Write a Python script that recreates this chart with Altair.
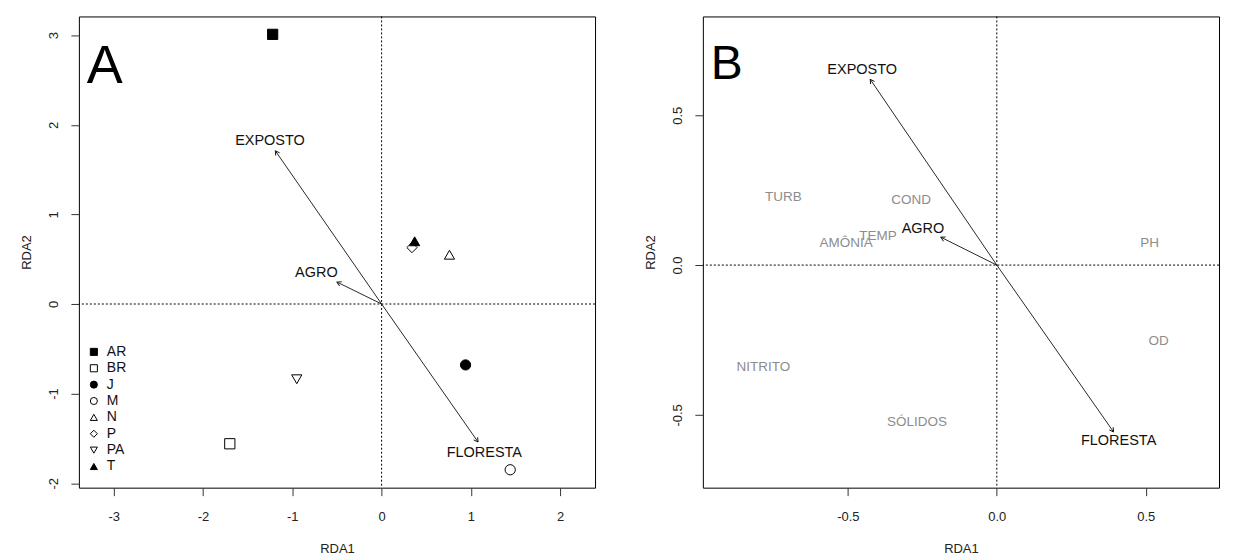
import math
import altair as alt
import pandas as pd

# ---------------- Panel A: site scores ----------------
sites = ["AR", "BR", "J", "M", "N", "P", "PA", "T"]
site_x = [-1.22, -1.70, 0.94, 1.44, 0.76, 0.34, -0.95, 0.37]
site_y = [3.01, -1.56, -0.68, -1.85, 0.55, 0.63, -0.84, 0.70]
site_shapes = ["square", "square", "circle", "circle", "triangle-up", "diamond", "triangle-down", "triangle-up"]
site_fills = ["black", "white", "black", "white", "white", "white", "white", "black"]

# land-use arrows (panel A)
landuse = ["EXPOSTO", "AGRO", "FLORESTA"]
a_tip_x = [-1.19, -0.50, 1.08]
a_tip_y = [1.71, 0.245, -1.54]
a_lab_x = [-1.25, -0.73, 1.15]
a_lab_y = [1.82, 0.35, -1.66]

# ---------------- Panel B ----------------
b_tip_x = [-0.425, -0.188, 0.392]
b_tip_y = [0.62, 0.093, -0.557]
b_lab_x = [-0.452, -0.248, 0.409]
b_lab_y = [0.65, 0.12, -0.587]

water = ["TURB", "COND", "TEMP", "AMÔNIA", "PH", "OD", "NITRITO", "SÓLIDOS"]
water_x = [-0.717, -0.288, -0.399, -0.506, 0.513, 0.543, -0.784, -0.268]
water_y = [0.227, 0.217, 0.097, 0.073, 0.073, -0.253, -0.34, -0.523]

# axis settings
A_xdom = [-3.39, 2.39]
A_ydom = [-2.05, 3.21]
A_xticks = [-3, -2, -1, 0, 1, 2]
A_yticks = [-2, -1, 0, 1, 2, 3]
B_xdom = [-0.987, 0.746]
B_ydom = [-0.743, 0.83]
B_xticks = [-0.5, 0.0, 0.5]
B_yticks = [-0.5, 0.0, 0.5]

W, H = 517, 472
FONT = "Liberation Sans"
GRAY = "#8c8c8c"
VPATH = "M-0.5,0.87 L0,0 L0.5,0.87"


def angles(xs, ys, xdom, ydom):
    sx = W / (xdom[1] - xdom[0])
    sy = H / (ydom[1] - ydom[0])
    return [math.degrees(math.atan2(x * sx, y * sy)) % 360 for x, y in zip(xs, ys)]


def encs(xdom, ydom, xticks, yticks, fmt):
    lab = "replace(format(datum.value, '%s'), '\u2212', '-')" % fmt
    xe = alt.X("x:Q", scale=alt.Scale(domain=xdom, nice=False, zero=False),
               axis=alt.Axis(values=xticks, title="RDA1", labelExpr=lab))
    ye = alt.Y("y:Q", scale=alt.Scale(domain=ydom, nice=False, zero=False),
               axis=alt.Axis(values=yticks, title="RDA2", labelExpr=lab, labelAngle=270))
    return xe, ye


def arrows(tx, ty, xdom, ydom, xe, ye):
    df = pd.DataFrame({"x": [0.0] * len(tx), "y": [0.0] * len(ty), "x2": tx, "y2": ty})
    shaft = alt.Chart(df).mark_rule(color="#111", strokeWidth=0.9).encode(
        x=xe, y=ye, x2="x2:Q", y2="y2:Q")
    hd = pd.DataFrame({"x": tx, "y": ty, "ang": angles(tx, ty, xdom, ydom)})
    head = alt.Chart(hd).mark_point(shape=VPATH, filled=False, color="#111",
                                    strokeWidth=0.9, size=90, opacity=1).encode(
        x=xe, y=ye, angle=alt.Angle("ang:Q", scale=None))
    return shaft + head


def zero_lines(xe, ye):
    z = pd.DataFrame({"x": [0.0], "y": [0.0]})
    v = alt.Chart(z).mark_rule(color="black", strokeWidth=1, strokeDash=[2, 2]).encode(x=xe)
    h = alt.Chart(z).mark_rule(color="black", strokeWidth=1, strokeDash=[2, 2]).encode(y=ye)
    return v + h


def labels(names, xs, ys, xe, ye, color, size):
    df = pd.DataFrame({"x": xs, "y": ys, "t": names})
    return alt.Chart(df).mark_text(fontSize=size, font=FONT, color=color,
                                   align="center", baseline="middle").encode(
        x=xe, y=ye, text="t:N")


def letter(t, px, py, size):
    return alt.Chart(pd.DataFrame({"t": [t]})).mark_text(
        fontSize=size, font=FONT, color="black", align="center", baseline="alphabetic").encode(
        x=alt.value(px), y=alt.value(py), text="t:N")


# ---------- Panel A ----------
axA, ayA = encs(A_xdom, A_ydom, A_xticks, A_yticks, "d")
site_df = pd.DataFrame({"x": site_x, "y": site_y, "site": sites})
legend = alt.Legend(title=None, orient="none", legendX=8, legendY=329, padding=0,
                    symbolSize=50, labelFontSize=14, labelFont=FONT, labelColor="#111",
                    labelOffset=6, rowPadding=2.4, symbolStrokeWidth=1)
pts = alt.Chart(site_df).mark_point(filled=True, strokeWidth=1, size=105, opacity=1).encode(
    x=axA, y=ayA,
    shape=alt.Shape("site:N", scale=alt.Scale(domain=sites, range=site_shapes), legend=legend),
    fill=alt.Fill("site:N", scale=alt.Scale(domain=sites, range=site_fills), legend=legend),
    stroke=alt.Stroke("site:N", scale=alt.Scale(domain=sites, range=["black"] * len(sites)),
                      legend=legend),
)
panelA = alt.layer(
    zero_lines(axA, ayA),
    arrows(a_tip_x, a_tip_y, A_xdom, A_ydom, axA, ayA),
    labels(landuse, a_lab_x, a_lab_y, axA, ayA, "#111", 14.5),
    pts,
    letter("A", 26, 67, 54),
).properties(width=W, height=H)

# ---------- Panel B ----------
axB, ayB = encs(B_xdom, B_ydom, B_xticks, B_yticks, ".1f")
panelB = alt.layer(
    zero_lines(axB, ayB),
    arrows(b_tip_x, b_tip_y, B_xdom, B_ydom, axB, ayB),
    labels(water, water_x, water_y, axB, ayB, GRAY, 13.5),
    labels(landuse, b_lab_x, b_lab_y, axB, ayB, "#111", 14.5),
    letter("B", 24, 63, 48),
).properties(width=W, height=H)

chart = alt.hconcat(panelA, panelB, spacing=108, bounds="flush").properties(
    padding={"left": 12, "top": 7, "right": 5, "bottom": 2}
).configure_view(stroke="black", strokeWidth=1).configure_axis(
    grid=False, domain=False, tickSize=8, tickColor="#333", tickWidth=1,
    labelFont=FONT, labelFontSize=13, labelColor="#222",
    titleFont=FONT, titleFontSize=13, titleColor="#222", titleFontWeight="normal",
).configure_axisX(labelPadding=15, titlePadding=19).configure_axisY(
    labelPadding=10, titlePadding=14, labelAlign="center", labelBaseline="bottom")

chart.save("out.html", embed_options={"renderer": "svg", "actions": False})
